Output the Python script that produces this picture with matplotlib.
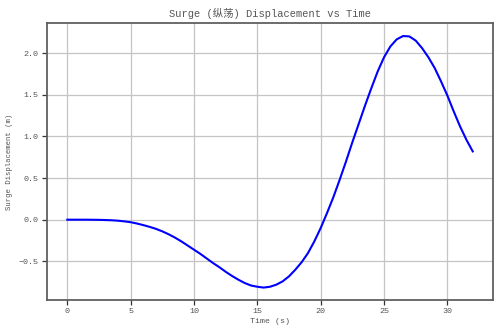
import matplotlib
matplotlib.use("Agg")
import matplotlib.pyplot as plt

time_s = [0, 0.5, 1, 1.5, 2, 2.5, 3, 3.5, 4, 4.5, 5, 5.5, 6, 6.5, 7, 7.5, 8, 8.5,
          9, 9.5, 10, 10.5, 11, 11.5, 12, 12.5, 13, 13.5, 14, 14.5, 15, 15.5, 16,
          16.5, 17, 17.5, 18, 18.5, 19, 19.5, 20, 20.5, 21, 21.5, 22, 22.5, 23,
          23.5, 24, 24.5, 25, 25.5, 26, 26.5, 27, 27.5, 28, 28.5, 29, 29.5, 30,
          30.5, 31, 31.5, 32]
surge_m = [0.0, 0.0, 0.0, 0.0, -0.001, -0.002, -0.004, -0.007, -0.012, -0.02,
           -0.03, -0.046, -0.065, -0.086, -0.11, -0.14, -0.175, -0.215, -0.26,
           -0.31, -0.36, -0.41, -0.465, -0.52, -0.57, -0.625, -0.675, -0.72,
           -0.76, -0.79, -0.805, -0.815, -0.805, -0.78, -0.74, -0.68, -0.60,
           -0.51, -0.40, -0.26, -0.10, 0.08, 0.27, 0.48, 0.70, 0.93, 1.15, 1.37,
           1.58, 1.78, 1.95, 2.08, 2.165, 2.205, 2.20, 2.15, 2.06, 1.95, 1.82,
           1.66, 1.49, 1.30, 1.12, 0.96, 0.82]

title = "Surge (纵荡) Displacement vs Time"
xlabel = "Time (s)"
ylabel = "Surge Displacement (m)"

fam = ["Liberation Mono", "Noto Sans CJK SC", "DejaVu Sans"]
plt.rcParams["font.family"] = fam
txt = "#555555"

fig = plt.figure(figsize=(5, 3.35), dpi=100)
ax = fig.add_axes([0.094, 0.104, 0.892, 0.826])
ax.plot(time_s, surge_m, color="blue", lw=1.5, solid_joinstyle="round")
ax.grid(True, color="#c4c4c4", lw=0.9)
ax.set_axisbelow(True)
for s in ax.spines.values():
    s.set_color("#606060")
    s.set_linewidth(1.3)
ax.tick_params(colors="#333333", labelcolor=txt, labelsize=6, length=3.5, width=0.9, pad=2.5)
ax.set_title(title, fontsize=7.5, color=txt, pad=5)
ax.set_xlabel(xlabel, fontsize=6, color=txt, labelpad=2)
ax.set_ylabel(ylabel, fontsize=5.2, color=txt, labelpad=4)
fig.savefig("out.png", dpi=100)
